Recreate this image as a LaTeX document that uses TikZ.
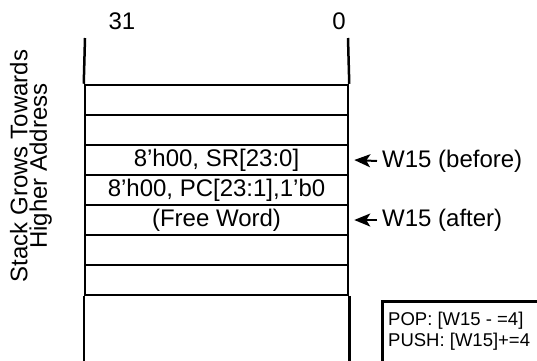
\documentclass[tikz,border=0pt]{standalone}
\usepackage{fontspec}
\setmainfont{Liberation Sans}
\usetikzlibrary{arrows.meta,positioning}
\newcommand{\wordfont}{\fontsize{24}{19.5}\selectfont}
\newcommand{\notefont}{\fontsize{18.5}{21}\selectfont}

\begin{document}
\begin{tikzpicture}[
    x=1pt, y=-1pt,
    word/.style={draw, line width=2.5pt, minimum width=263pt, minimum height=30pt, inner sep=0pt, font=\wordfont},
    bitnum/.style={font=\wordfont, inner sep=0pt},
    ptr/.style={-{Stealth[length=16pt, width=13pt, inset=4pt]}, line width=2pt},
    ptrlabel/.style={font=\wordfont, inner sep=0pt, anchor=west},
    memo/.style={draw, line width=3pt, anchor=north west, minimum width=200pt, minimum height=90pt},
]
\clip (0,0) rectangle (537,360);

% stack words
\node[word] (w0) at (216.5,100) {};
\node[word] (w1) at (216.5,130) {};
\node[word] (w2) at (216.5,160) {8'h00, SR[23:0]};
\node[word] (w3) at (216.5,190) {8'h00, PC[23:1],1'b0};
\node[word] (w4) at (216.5,220) {(Free Word)};
\node[word] (w5) at (216.5,250) {};
\node[word] (w6) at (216.5,280) {};

% open ends of the stack
\coordinate (top31) at (85,38);
\coordinate (top0) at (348,38);
\draw[line width=2.5pt] (top31) -- (w0.north west);
\draw[line width=2.5pt] (top0) -- (w0.north east);
\draw[line width=2.5pt] (w6.south west) -- ++(0,90);
\draw[line width=2.5pt] (w6.south east) -- ++(0,90);

\node[bitnum] (b31) at (122,21) {31};
\node[bitnum] (b0) at (339,21) {0};

\node[rotate=90, align=center, font=\wordfont, inner sep=0pt] (grow) at (31,166) {Stack Grows Towards\\Higher Address};

% stack pointer
\node[ptrlabel] (before) at (382,161) {W15 (before)};
\node[ptrlabel] (after) at (382,220) {W15 (after)};
\draw[ptr] ([xshift=-5pt]before.west) -- ([xshift=5pt]w2.east);
\draw[ptr] ([xshift=-5pt]after.west) -- ([xshift=5pt]w4.east);

\node[memo] (opsbox) at (381,300) {};
\node[font=\notefont, align=left, inner sep=0pt, anchor=north west] (ops) at ([shift={(7,12)}]opsbox.north west) {POP: [W15 - =4]\\PUSH: [W15]+=4};
\end{tikzpicture}
\end{document}
